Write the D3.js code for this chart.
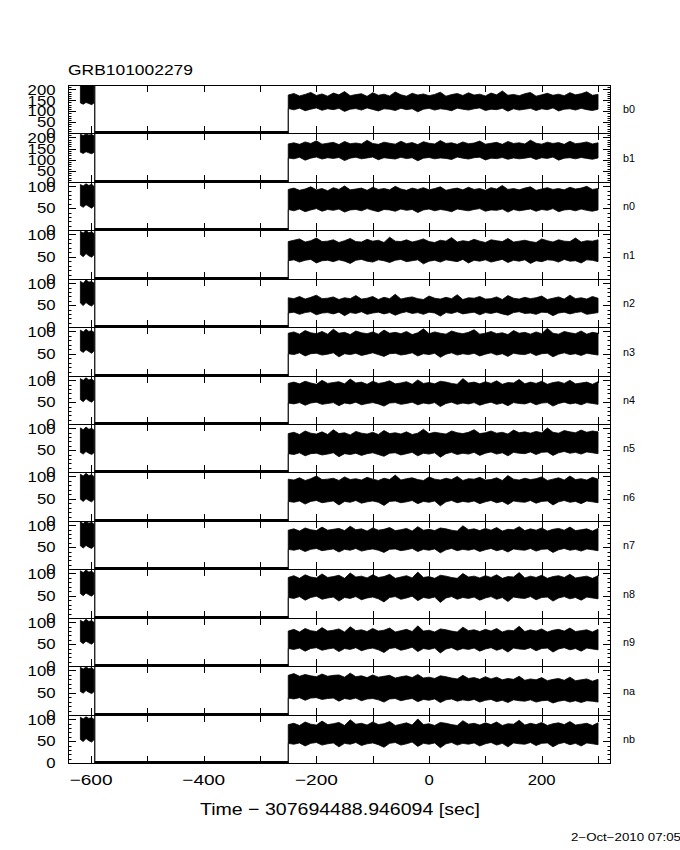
<!DOCTYPE html>
<html><head><meta charset="utf-8">
<script src="https://cdn.jsdelivr.net/npm/d3@7/dist/d3.min.js"></script>
<style>
body{margin:0;background:#fff}
svg{display:block}
text{font-family:"Liberation Sans",Arial,Helvetica,sans-serif;fill:#000}
</style>
</head><body>
<svg id="chart" width="680" height="850"></svg>
<script>
// ---------------- data ----------------
const title = "GRB101002279";
const detectors = ["b0","b1","n0","n1","n2","n3","n4","n5","n6","n7","n8","n9","na","nb"];
const yDomainMax = [220,220,110,110,110,110,110,110,110,110,110,110,110,110];
const yTicksB = [0,50,100,150,200];
const yTicksN = [0,50,100];
const xTicks = [-600,-500,-400,-300,-200,-100,0,100,200,300];
const xTickLabels = [-600,-400,-200,0,200];
const xLabel = "Time \u2212 307694488.946094 [sec]";
const dateLabel = "2\u2212Oct\u22122010 07:05";

const preTimes = [-619,-614,-609,-604,-599,-595];
const spikeTime = -593.5;
const postTimes = [-250,-240,-230,-220,-210,-200,-190,-180,-170,-160,-150,-140,-130,-120,-110,-100,-90,-80,-70,-60,-50,-40,-30,-20,-10,0,10,20,30,40,50,60,70,80,90,100,110,120,130,140,150,160,170,180,190,200,210,220,230,240,250,260,270,280,290,300];

const b0PreU = [222,218,225,220,224,219], b0PreL = [138,132,140,135,130,137];
const b1PreU = [214,209,216,211,213,208], b1PreL = [134,128,136,131,127,133];
const n0PreU = [104,101,106,102,105,100], n0PreL = [56,52,58,54,50,55];
const n1PreU = [107,103,109,104,106,102], n1PreL = [55,50,57,52,49,54];
const n2PreU = [105,100,108,103,104,101], n2PreL = [55,49,56,51,48,53];
const n3PreU = [103,99,105,100,102,98], n3PreL = [57,53,59,55,51,56];
const n4PreU = [104,100,106,101,103,99], n4PreL = [56,51,58,53,50,55];
const n5PreU = [101,97,103,98,100,96], n5PreL = [45,41,47,43,40,44];
const n6PreU = [105,101,107,102,104,100], n6PreL = [49,44,50,46,43,48];
const n7PreU = [108,104,110,105,107,103], n7PreL = [53,48,54,50,47,52];
const n8PreU = [106,102,108,103,105,101], n8PreL = [55,50,56,52,49,54];
const n9PreU = [105,101,107,102,104,100], n9PreL = [56,51,57,53,50,55];
const naPreU = [107,103,108,104,106,102], naPreL = [53,49,55,51,48,52];
const nbPreU = [105,101,106,102,104,100], nbPreL = [54,49,56,51,48,53];

const b0U = [174,181,170,177,186,172,179,169,183,175,190,171,176,180,168,185,173,178,170,188,175,169,182,174,179,171,177,187,169,176,181,172,184,174,178,170,183,175,193,173,177,171,180,186,169,175,182,173,178,171,185,175,180,189,173,177];
const b0L = [112,106,114,102,109,115,104,111,107,113,99,109,112,105,115,108,101,111,109,103,113,107,111,97,109,113,105,111,108,102,114,109,105,111,115,103,109,107,113,100,111,105,109,113,103,111,107,115,101,109,111,105,113,107,103,109];
const b1U = [171,176,169,180,173,185,170,174,178,168,182,172,175,171,187,173,169,179,174,170,183,172,177,168,181,174,171,186,173,176,169,180,172,175,184,170,174,178,169,182,173,176,171,188,174,170,179,173,177,169,183,172,175,180,171,176];
const b1L = [108,104,111,98,107,112,103,109,106,110,96,107,111,104,108,112,100,109,106,103,111,105,109,95,107,110,104,108,106,101,112,107,103,109,111,99,107,105,110,102,108,104,107,111,101,109,106,112,98,107,109,104,110,106,102,108];
const n0U = [93,96,91,94,99,92,95,90,97,93,101,92,94,96,91,98,93,95,92,100,94,91,96,93,97,92,95,99,91,94,96,92,98,93,95,91,97,94,102,93,95,92,96,99,91,94,97,93,95,92,98,94,96,100,93,95];
const n0L = [47,44,48,42,46,49,43,47,45,48,41,46,47,44,49,45,42,47,46,43,48,45,47,40,46,48,44,47,45,42,48,46,44,47,49,43,46,45,48,41,47,44,46,48,43,47,45,49,42,46,47,44,48,45,43,46];
const n1U = [84,87,90,83,86,92,84,85,88,82,86,91,84,83,89,85,87,82,94,85,84,88,83,86,90,84,82,87,85,93,83,86,84,89,85,82,88,86,84,91,83,85,87,84,82,90,86,83,88,85,84,92,83,86,85,88];
const n1L = [41,43,38,42,44,36,41,42,39,43,40,35,42,44,40,38,43,41,37,42,44,39,41,43,34,40,42,38,43,41,39,44,36,42,40,43,38,41,44,37,42,40,43,35,41,39,43,42,38,44,40,41,36,43,42,39];
const n2U = [67,65,70,64,68,73,65,66,69,63,67,65,72,64,66,70,63,68,65,75,64,67,69,65,63,71,66,64,68,65,74,63,67,66,70,64,65,69,63,72,66,64,68,65,67,71,63,66,69,64,73,65,67,64,70,66];
const n2L = [32,34,29,33,35,28,32,33,30,34,26,33,31,35,29,32,34,30,33,27,32,35,31,33,29,34,32,25,33,31,35,30,32,34,28,33,31,34,30,27,33,35,31,32,29,34,33,26,32,34,30,33,35,29,31,33];
const n3U = [96,99,94,102,97,95,100,94,105,96,98,93,101,97,95,99,94,103,96,98,95,100,93,97,106,95,99,96,94,101,97,95,98,104,94,96,100,95,97,93,102,96,98,94,99,95,107,96,94,100,97,95,101,94,98,96];
const n3L = [50,48,52,45,50,51,47,49,52,43,50,48,51,46,49,52,48,44,50,51,47,49,52,45,50,48,51,42,49,52,47,50,48,51,45,49,52,47,50,44,51,49,48,52,46,50,51,43,49,52,48,50,46,51,49,47];
const n4U = [93,96,92,98,94,91,100,93,95,97,92,103,94,96,91,98,93,95,99,92,94,97,91,101,93,95,92,98,96,93,91,104,94,96,92,97,93,99,91,95,94,102,92,96,93,98,91,95,97,93,100,92,94,96,91,97];
const n4L = [48,46,49,43,48,50,45,47,49,42,48,46,50,44,47,49,46,41,48,49,45,47,50,44,48,46,49,40,47,50,45,48,46,49,43,47,50,45,48,42,49,47,46,50,44,48,49,41,47,50,46,48,44,49,47,45];
const n5U = [88,91,86,94,89,87,92,86,97,88,90,85,93,89,87,91,86,95,88,90,87,92,86,89,98,88,91,89,87,94,90,88,91,97,88,90,94,89,91,87,96,90,92,89,93,90,101,91,89,95,92,90,96,91,94,92];
const n5L = [42,40,44,37,42,43,39,41,44,35,42,40,43,38,42,44,40,36,43,44,39,42,45,37,43,41,44,34,42,45,40,43,41,45,38,43,46,41,44,37,45,43,42,46,40,45,46,38,44,47,43,45,41,46,44,42];
const n6U = [94,92,97,91,95,101,93,94,96,91,99,93,95,92,98,94,91,96,93,103,92,95,97,93,91,99,94,92,96,93,100,91,95,94,98,92,93,97,91,102,94,92,96,93,95,99,91,94,97,92,101,93,95,92,98,94];
const n6L = [44,42,45,38,44,46,41,43,45,36,44,42,46,40,43,45,42,35,44,45,41,43,46,39,44,42,45,34,43,46,41,44,42,45,39,43,46,41,44,37,45,43,42,46,40,44,45,36,43,46,42,44,39,45,43,41];
const n7U = [89,92,87,94,90,88,96,89,91,93,88,98,90,92,87,94,89,91,95,88,90,93,87,97,89,91,88,94,92,89,87,99,90,92,88,93,89,95,87,91,90,97,88,92,89,94,87,91,93,89,96,88,90,92,87,93];
const n7L = [45,43,46,40,45,47,42,44,46,39,45,43,47,41,44,46,43,38,45,46,42,44,47,40,45,43,46,37,44,47,42,45,43,46,40,44,47,42,45,39,46,44,43,47,41,45,46,38,44,47,43,45,41,46,44,42];
const n8U = [91,95,89,97,92,90,99,91,93,96,89,101,92,94,90,97,91,93,98,89,92,95,90,103,91,93,89,96,94,91,89,100,92,94,90,95,91,97,89,93,92,102,90,94,91,96,89,93,95,91,98,90,92,94,89,95];
const n8L = [46,44,48,40,46,49,42,45,47,38,46,44,48,41,45,47,43,36,46,48,42,45,49,39,46,44,47,35,45,48,42,46,44,47,40,45,48,42,46,37,47,45,44,48,41,46,47,38,45,48,43,46,40,47,45,43];
const n9U = [80,84,78,86,81,79,88,80,82,85,78,90,81,83,79,86,80,82,87,78,81,84,79,92,80,82,78,85,83,80,78,89,81,83,79,84,80,86,78,82,81,91,79,83,80,85,78,82,84,80,87,79,81,83,78,84];
const n9L = [40,38,41,34,40,42,36,39,41,33,40,38,42,35,39,41,37,31,40,42,36,39,43,33,40,38,41,30,39,42,36,40,38,41,34,39,42,36,40,32,41,39,38,42,35,40,41,32,39,42,37,40,34,41,39,37];
const naU = [89,93,87,91,88,86,92,87,89,90,85,94,86,88,84,90,85,87,89,83,86,88,84,91,83,85,82,88,86,83,81,89,82,84,80,86,81,85,79,82,80,87,78,81,79,84,77,80,82,78,85,77,79,81,76,80];
const naL = [38,36,39,33,38,39,35,37,38,31,37,35,38,32,36,37,34,29,36,37,32,35,37,30,35,33,36,28,34,36,31,34,32,35,29,33,35,30,33,28,34,32,31,34,29,32,33,27,31,33,29,32,28,32,31,29];
const nbU = [88,91,86,94,89,87,96,88,90,93,86,99,89,91,87,94,88,90,95,86,89,92,87,101,88,90,86,93,91,88,86,97,89,91,87,92,88,94,86,90,89,98,87,91,88,93,86,90,92,88,95,87,89,91,86,92];
const nbL = [45,43,46,39,45,47,41,44,46,37,45,43,47,40,44,46,42,36,45,47,41,44,48,38,45,43,46,35,44,47,41,45,43,46,39,44,47,41,45,37,46,44,43,47,40,45,46,37,44,47,42,45,39,46,44,42];

const preUpper = [b0PreU,b1PreU,n0PreU,n1PreU,n2PreU,n3PreU,n4PreU,n5PreU,n6PreU,n7PreU,n8PreU,n9PreU,naPreU,nbPreU];
const preLower = [b0PreL,b1PreL,n0PreL,n1PreL,n2PreL,n3PreL,n4PreL,n5PreL,n6PreL,n7PreL,n8PreL,n9PreL,naPreL,nbPreL];
const postUpper = [b0U,b1U,n0U,n1U,n2U,n3U,n4U,n5U,n6U,n7U,n8U,n9U,naU,nbU];
const postLower = [b0L,b1L,n0L,n1L,n2L,n3L,n4L,n5L,n6L,n7L,n8L,n9L,naL,nbL];

// ---------------- layout ----------------
const L = 68, R = 611, T = 85, B = 763;
const svg = d3.select("#chart");
const x = d3.scaleLinear().domain([-641, 323]).range([L, R]);
const ph = (B - T) / detectors.length;
const edges = d3.range(detectors.length + 1).map(i => Math.round(T + i * ph));

const digitW = 9.3;
function labelLen(s){ let w = 0; for (const c of s) w += (c === "\u2212" || c === "-") ? 15 : digitW; return w; }

svg.append("text").attr("x", L).attr("y", 75).attr("font-size", 14)
  .attr("textLength", 125).attr("lengthAdjust", "spacingAndGlyphs").text(title);

detectors.forEach((name, i) => {
  const top = edges[i], bot = edges[i + 1];
  const y = d3.scaleLinear().domain([0, yDomainMax[i]]).range([bot, top]);
  const g = svg.append("g");
  const clipId = "clip" + i;
  svg.append("clipPath").attr("id", clipId).append("rect")
    .attr("x", L).attr("y", top).attr("width", R - L).attr("height", bot - top);
  const dg = g.append("g").attr("clip-path", `url(#${clipId})`);

  const area = d3.area().x(d => x(d.t)).y0(d => y(d.lo)).y1(d => y(d.hi));
  const pre = preTimes.map((t, k) => ({t, hi: preUpper[i][k], lo: preLower[i][k]}));
  const post = postTimes.map((t, k) => ({t, hi: postUpper[i][k], lo: postLower[i][k]}));
  dg.append("path").datum(pre).attr("d", area).attr("fill", "#000").attr("stroke", "#000").attr("stroke-width", 0.8);
  dg.append("path").datum(post).attr("d", area).attr("fill", "#000").attr("stroke", "#000").attr("stroke-width", 0.8);

  // spike line to top, then zero-level gap, then rise into post segment
  dg.append("line").attr("x1", x(spikeTime)).attr("x2", x(spikeTime))
    .attr("y1", y(0)).attr("y2", top).attr("stroke", "#000").attr("stroke-width", 1.2);
  dg.append("line").attr("x1", x(postTimes[0])).attr("x2", x(postTimes[0]))
    .attr("y1", y(0)).attr("y2", y(postLower[i][0])).attr("stroke", "#000").attr("stroke-width", 1.2);
  g.append("line").attr("x1", x(spikeTime)).attr("x2", x(postTimes[0]))
    .attr("y1", y(0) - 0.5).attr("y2", y(0) - 0.5).attr("stroke", "#000").attr("stroke-width", 3);

  // frame
  g.append("rect").attr("x", L + 0.5).attr("y", top + 0.5).attr("width", R - L - 1).attr("height", bot - top)
    .attr("fill", "none").attr("stroke", "#000").attr("stroke-width", 1);

  // y ticks (inside, both sides)
  const ymax = yDomainMax[i];
  const minor = d3.range(0, ymax + 0.001, 10);
  minor.forEach(v => {
    const len = (v % 50 === 0) ? 8 : 3.5;
    const yy = Math.round(y(v)) + 0.5;
    g.append("line").attr("x1", L).attr("x2", L + len).attr("y1", yy).attr("y2", yy).attr("stroke", "#000");
    g.append("line").attr("x1", R).attr("x2", R - len).attr("y1", yy).attr("y2", yy).attr("stroke", "#000");
  });
  // x ticks top & bottom
  xTicks.forEach(t => {
    const xx = Math.round(x(t)) + 0.5;
    g.append("line").attr("x1", xx).attr("x2", xx).attr("y1", top).attr("y2", top + 7).attr("stroke", "#000");
    g.append("line").attr("x1", xx).attr("x2", xx).attr("y1", bot).attr("y2", bot - 7).attr("stroke", "#000");
  });

  // y tick labels
  const labels = ymax > 150 ? yTicksB : yTicksN;
  labels.forEach(v => {
    const s = String(v);
    svg.append("text").attr("x", 55.5).attr("y", y(v) + 5.3).attr("font-size", 15)
      .attr("text-anchor", "end").attr("textLength", labelLen(s)).attr("lengthAdjust", "spacingAndGlyphs").text(s);
  });

  // detector name
  svg.append("text").attr("x", 623).attr("y", (top + bot) / 2 + 4).attr("font-size", 11)
    .attr("textLength", 12).attr("lengthAdjust", "spacingAndGlyphs").text(name);
});

// x tick labels
xTickLabels.forEach(t => {
  const s = t < 0 ? "\u2212" + Math.abs(t) : String(t);
  svg.append("text").attr("x", x(t)).attr("y", 785).attr("font-size", 15).attr("text-anchor", "middle")
    .attr("textLength", labelLen(s)).attr("lengthAdjust", "spacingAndGlyphs").text(s);
});

svg.append("text").attr("x", 200).attr("y", 815).attr("font-size", 17)
  .attr("textLength", 280).attr("lengthAdjust", "spacingAndGlyphs").text(xLabel);
svg.append("text").attr("x", 571).attr("y", 841).attr("font-size", 10)
  .attr("textLength", 110).attr("lengthAdjust", "spacingAndGlyphs").text(dateLabel);
</script>
</body></html>
